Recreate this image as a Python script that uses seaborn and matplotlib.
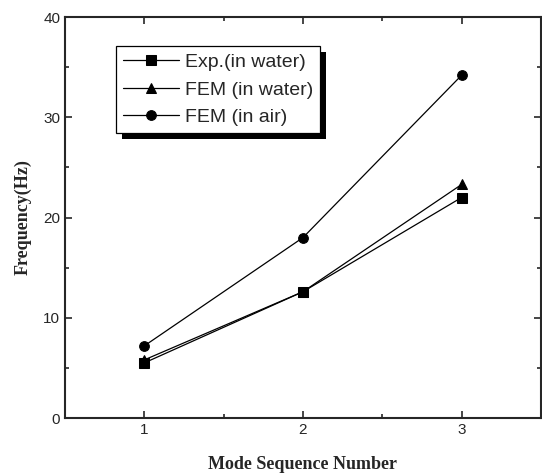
import pandas as pd
import matplotlib.pyplot as plt
import matplotlib.patheffects as pe
import seaborn as sns
from matplotlib.ticker import MultipleLocator

# Data
modes = [1, 2, 3]
exp_water = [5.5, 12.6, 22.0]
fem_water = [5.8, 12.6, 23.3]
fem_air = [7.2, 18.0, 34.2]
series_names = ["Exp.(in water)", "FEM (in water)", "FEM (in air)"]

df = pd.DataFrame({
    "mode": modes * 3,
    "freq": exp_water + fem_water + fem_air,
    "series": [s for s in series_names for _ in modes],
})

sns.set_style("ticks")
plt.rcParams["font.family"] = ["Liberation Sans", "DejaVu Sans"]

fig = plt.figure(figsize=(5.42, 4.75), dpi=100)
ax = fig.add_axes([0.12, 0.12, 0.878, 0.844])

sns.lineplot(
    data=df, x="mode", y="freq", style="series", hue="series",
    palette=["black"] * 3, markers={"Exp.(in water)": "s", "FEM (in water)": "^", "FEM (in air)": "o"},
    dashes=False, markersize=7, linewidth=0.9, markeredgecolor="black", ax=ax,
)

ax.set_xlim(0.5, 3.5)
ax.set_ylim(0, 40)
ax.xaxis.set_major_locator(MultipleLocator(1))
ax.xaxis.set_minor_locator(MultipleLocator(0.5))
ax.yaxis.set_major_locator(MultipleLocator(10))
ax.yaxis.set_minor_locator(MultipleLocator(5))
ax.tick_params(which="both", direction="in", top=True, right=True, labelsize=11, width=1.2)
ax.tick_params(which="major", length=5)
ax.tick_params(which="minor", length=3)
for sp in ax.spines.values():
    sp.set_linewidth(1.5)

ax.set_xlabel("Mode Sequence Number", family="Liberation Serif", fontweight="bold", fontsize=13, labelpad=14)
ax.set_ylabel("Frequency(Hz)", family="Liberation Serif", fontweight="bold", fontsize=13, labelpad=8)

handles, labels = ax.get_legend_handles_labels()
leg = ax.legend(handles, labels, loc="upper left", bbox_to_anchor=(0.107, 0.927), fontsize=14,
                frameon=True, fancybox=False, shadow=False, framealpha=1,
                handlelength=2.9, handletextpad=0.3, borderpad=0.35, labelspacing=0.52,
                borderaxespad=0)
frame = leg.get_frame()
frame.set_edgecolor("black")
frame.set_facecolor("white")
frame.set_linewidth(0.9)
frame.set_path_effects([pe.withSimplePatchShadow(offset=(4, -4), shadow_rgbFace="black", alpha=1)])

fig.savefig("out.png", dpi=100)
